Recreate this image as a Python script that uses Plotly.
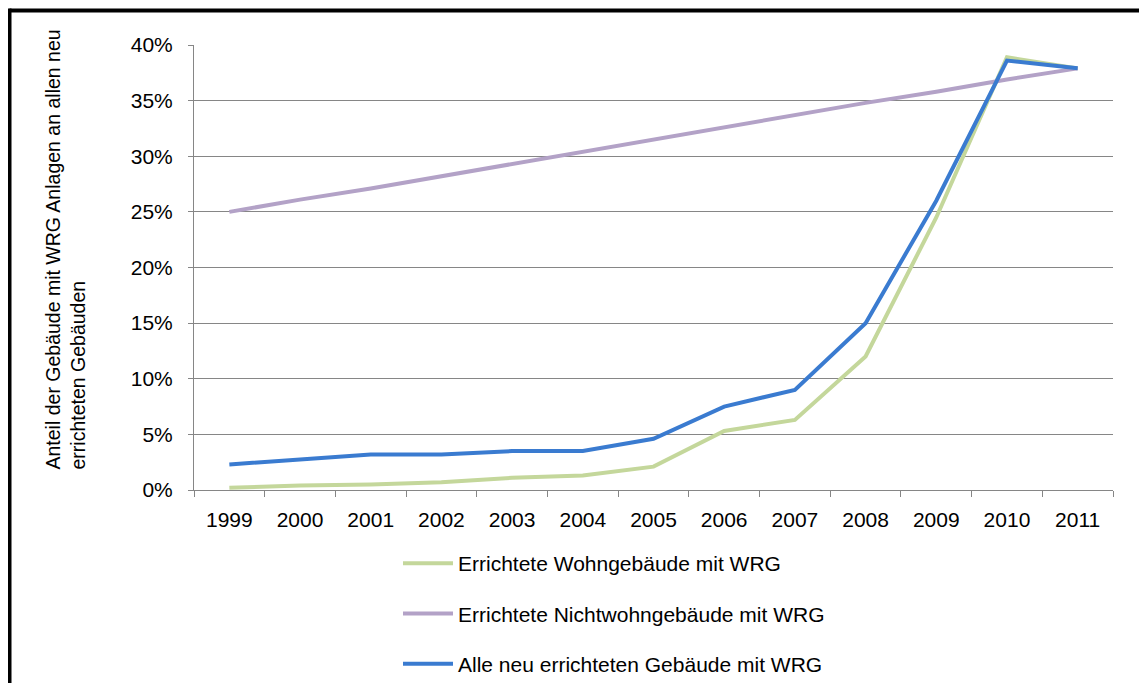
import plotly.graph_objects as go

years = ["1999", "2000", "2001", "2002", "2003", "2004", "2005",
         "2006", "2007", "2008", "2009", "2010", "2011"]

wohn = [0.2, 0.4, 0.5, 0.7, 1.1, 1.3, 2.1, 5.3, 6.3, 12.0, 24.5, 38.9, 37.9]
nichtwohn = [25.0, 26.1, 27.1, 28.2, 29.3, 30.4, 31.5, 32.6, 33.7, 34.8, 35.8, 36.9, 37.9]
alle = [2.3, 2.75, 3.2, 3.2, 3.5, 3.5, 4.6, 7.5, 9.0, 15.0, 26.0, 38.6, 37.9]

names = ["Errichtete Wohngebäude mit WRG",
         "Errichtete Nichtwohngebäude mit WRG",
         "Alle neu errichteten Gebäude mit WRG"]
colors = ["#C4D79B", "#B3A2C7", "#3A7BD0"]
series = [wohn, nichtwohn, alle]

y_ticks = [0, 5, 10, 15, 20, 25, 30, 35, 40]
y_ticktext = ["0%", "5%", "10%", "15%", "20%", "25%", "30%", "35%", "40%"]
y_title = "Anteil der Gebäude mit WRG Anlagen an allen neu<br>errichteten Gebäuden"

FONT = "Liberation Sans, Arial, sans-serif"

fig = go.Figure()
for i, (name, vals, col) in enumerate(zip(names, series, colors)):
    fig.add_trace(go.Scatter(
        x=years, y=vals, mode="lines", name=name,
        line=dict(color=col, width=4),
        legendgroup=f"g{i}",
    ))

# page body has an 8px margin; work in reference pixel coords minus 8
OFF = 8
W, H = 1131, 675
L = 194 - OFF
T = 45 - OFF
R = W - (1113 - OFF)
B = H - (490 - OFF)
pw = W - L - R
ph = H - T - B

def px_x(p):
    return (p - OFF - L) / pw

def px_y(p):
    return (H - B - (p - OFF)) / ph

fig.update_layout(
    width=W, height=H,
    margin=dict(l=L, r=R, t=T, b=B, pad=0, autoexpand=False),
    paper_bgcolor="white", plot_bgcolor="white",
    font=dict(family=FONT, color="black"),
    showlegend=True,
    legend=dict(
        x=px_x(398), y=px_y(543), xanchor="left", yanchor="top",
        orientation="v", traceorder="grouped", tracegroupgap=20,
        font=dict(size=21, family=FONT, color="black"),
        itemwidth=50, bgcolor="rgba(0,0,0,0)",
    ),
    xaxis=dict(
        type="category", tickson="boundaries",
        showgrid=False, showline=True, linecolor="#868686", linewidth=1,
        ticks="outside", ticklen=6, tickcolor="#868686",
        tickfont=dict(size=21, family=FONT, color="black"),
        ticklabelstandoff=11,
        range=[-0.5, len(years) - 0.5],
    ),
    yaxis=dict(
        range=[0, 40], tickvals=y_ticks, ticktext=y_ticktext,
        showgrid=True, gridcolor="#868686", gridwidth=1,
        showline=True, linecolor="#868686", linewidth=1,
        ticks="outside", ticklen=5, tickcolor="#868686",
        tickfont=dict(size=21, family=FONT, color="black"),
        ticklabelstandoff=11, zeroline=False,
    ),
    annotations=[dict(
        text=y_title, textangle=-90, showarrow=False,
        xref="paper", yref="paper",
        x=px_x(90), y=px_y(472), xanchor="right", yanchor="bottom",
        align="left", font=dict(size=19.5, family=FONT, color="black"),
    )],
    shapes=[
        dict(type="line", xref="paper", yref="paper",
             x0=px_x(9.5), x1=px_x(1160), y0=px_y(10.5), y1=px_y(10.5),
             line=dict(color="black", width=4)),
        dict(type="line", xref="paper", yref="paper",
             x0=px_x(9.5), x1=px_x(9.5), y0=px_y(8.5), y1=px_y(700),
             line=dict(color="black", width=4)),
    ],
)

fig.write_html("out.html")
